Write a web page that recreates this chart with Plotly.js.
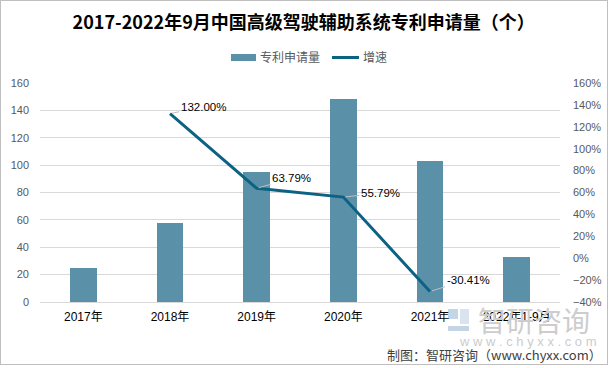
<!DOCTYPE html>
<html>
<head>
<meta charset="utf-8">
<script src="https://cdn.plot.ly/plotly-3.0.1.min.js"></script>
<style>
html,body{margin:0;padding:0;background:#fff;}
#wrap{position:relative;width:611px;height:368px;}
#chart{position:absolute;left:0;top:0;width:611px;height:368px;}
#frame{position:absolute;left:0;top:0;width:608px;height:365px;box-sizing:border-box;border:1px solid #bfbfbf;pointer-events:none;}
</style>
</head>
<body>
<div id="wrap"><div id="chart"></div><div id="frame"></div></div>
<script>
// ---- data ----
const categories = ['2017年','2018年','2019年','2020年','2021年','2022年1-9月'];
const applications = [25, 58, 95, 148, 103, 33];
const growth = [null, 1.32, 0.6379, 0.5579, -0.3041, null];
const growthLabels = [null, '132.00%', '63.79%', '55.79%', '-30.41%', null];
const leftTicks = [0, 20, 40, 60, 80, 100, 120, 140, 160];
const rightTicks = [-0.4, -0.2, 0, 0.2, 0.4, 0.6, 0.8, 1.0, 1.2, 1.4, 1.6];
const seriesNames = ['专利申请量', '增速'];

// ---- layout helpers (pixel -> paper) ----
const L = 40, R = 560, T = 83, B = 302;
const px = v => (v - L) / (R - L);
const py = v => (B - v) / (B - T);

const latin = 'Liberation Sans, Noto Sans CJK SC, sans-serif';
const cjk = 'Noto Sans CJK SC, sans-serif';
const barColor = '#5b91a8';
const lineColor = '#0b6282';

const labelOffsets = [null, [33, -7], [35, -10], [37, -4], [38, -12], null];
const annotations = [];
growthLabels.forEach((t, i) => {
  if (t === null) return;
  annotations.push({
    x: categories[i], y: growth[i], xref: 'x', yref: 'y2', text: t,
    showarrow: true, arrowhead: 0, arrowwidth: 1, arrowcolor: '#bfbfbf',
    ax: labelOffsets[i][0], ay: labelOffsets[i][1], standoff: 2,
    font: {family: latin, size: 11.5, color: '#000000'}
  });
});
// custom legend texts
annotations.push({xref:'paper', yref:'paper', x: px(258), y: py(57), text: seriesNames[0], showarrow:false,
  font:{family:cjk, size:12, color:'#595959'}, xanchor:'left', yanchor:'middle'});
annotations.push({xref:'paper', yref:'paper', x: px(361), y: py(57), text: seriesNames[1], showarrow:false,
  font:{family:cjk, size:12, color:'#595959'}, xanchor:'left', yanchor:'middle'});
// watermark + source
annotations.push({xref:'paper', yref:'paper', x: px(534), y: py(320), text:'智研咨询', showarrow:false,
  font:{family:cjk, size:28, color:'#cdcdcd'}, xanchor:'center', yanchor:'middle'});
annotations.push({xref:'paper', yref:'paper', x: px(528), y: py(341), text:'w w w . c h y x x . c o m', showarrow:false,
  font:{family:latin, size:13, color:'#cccccc'}, xanchor:'center', yanchor:'middle'});
annotations.push({xref:'paper', yref:'paper', x: px(604), y: py(354), text:'制图：智研咨询（www.chyxx.com）', showarrow:false,
  font:{family:cjk, size:13, color:'#404040'}, xanchor:'right', yanchor:'middle'});

const shapes = [
  // legend swatches
  {type:'rect', xref:'paper', yref:'paper', x0:px(231), x1:px(256), y0:py(61), y1:py(54), fillcolor:barColor, line:{width:0}},
  {type:'line', xref:'paper', yref:'paper', x0:px(332), x1:px(359), y0:py(57.5), y1:py(57.5), line:{color:lineColor, width:3}},
  // watermark icon
  {type:'rect', xref:'paper', yref:'paper', x0:px(448), x1:px(458), y0:py(319), y1:py(309), fillcolor:'#c5d5e4', line:{width:0}, layer:'below'},
  {type:'rect', xref:'paper', yref:'paper', x0:px(460), x1:px(469), y0:py(324), y1:py(309), fillcolor:'#d9e4ee', line:{width:0}, layer:'below'},
  {type:'rect', xref:'paper', yref:'paper', x0:px(448), x1:px(469), y0:py(331), y1:py(326), fillcolor:'#c5d5e4', line:{width:0}, layer:'below'}
];

const traces = [
  {type:'bar', name: seriesNames[0], x: categories, y: applications, width: 0.31,
   marker:{color: barColor}, yaxis:'y'},
  {type:'scatter', mode:'lines', name: seriesNames[1], x: categories, y: growth, yaxis:'y2',
   line:{color: lineColor, width:3}, connectgaps:false}
];

const layout = {
  width: 611, height: 368,
  margin: {l: L, r: 611 - R, t: T, b: 368 - B, pad: 0},
  paper_bgcolor: 'rgba(0,0,0,0)', plot_bgcolor: 'rgba(0,0,0,0)',
  title: {text: '2017-2022年9月中国高级驾驶辅助系统专利申请量（个）',
          font: {family: cjk, size: 18, color: '#000000', weight: 'bold'},
          x: 0.497, xref: 'container', xanchor: 'center', y: 1 - 23/368, yref: 'container', yanchor: 'middle'},
  showlegend: false,
  bargap: 0,
  xaxis: {type: 'category', showgrid: false, zeroline: false, showline: true, linecolor: '#d9d9d9', linewidth: 1,
          ticks: '', tickfont: {family: latin, size: 12, color: '#000000'}, ticklabelstandoff: 4, fixedrange: true},
  yaxis: {range: [0, 160], tickvals: leftTicks, showgrid: true, gridcolor: '#d9d9d9', gridwidth: 1,
          zeroline: false, showline: false, ticks: '', tickfont: {family: latin, size: 11, color: '#595959'},
          ticklabelstandoff: 10},
  yaxis2: {range: [-0.4, 1.6], tickvals: rightTicks, tickformat: '.0%', overlaying: 'y', side: 'right',
           showgrid: false, zeroline: false, showline: false, ticks: '',
           tickfont: {family: latin, size: 11, color: '#595959'}, ticklabelstandoff: 12},
  annotations: annotations,
  shapes: shapes
};

Plotly.newPlot('chart', traces, layout, {displayModeBar: false, staticPlot: true});
</script>
</body>
</html>
